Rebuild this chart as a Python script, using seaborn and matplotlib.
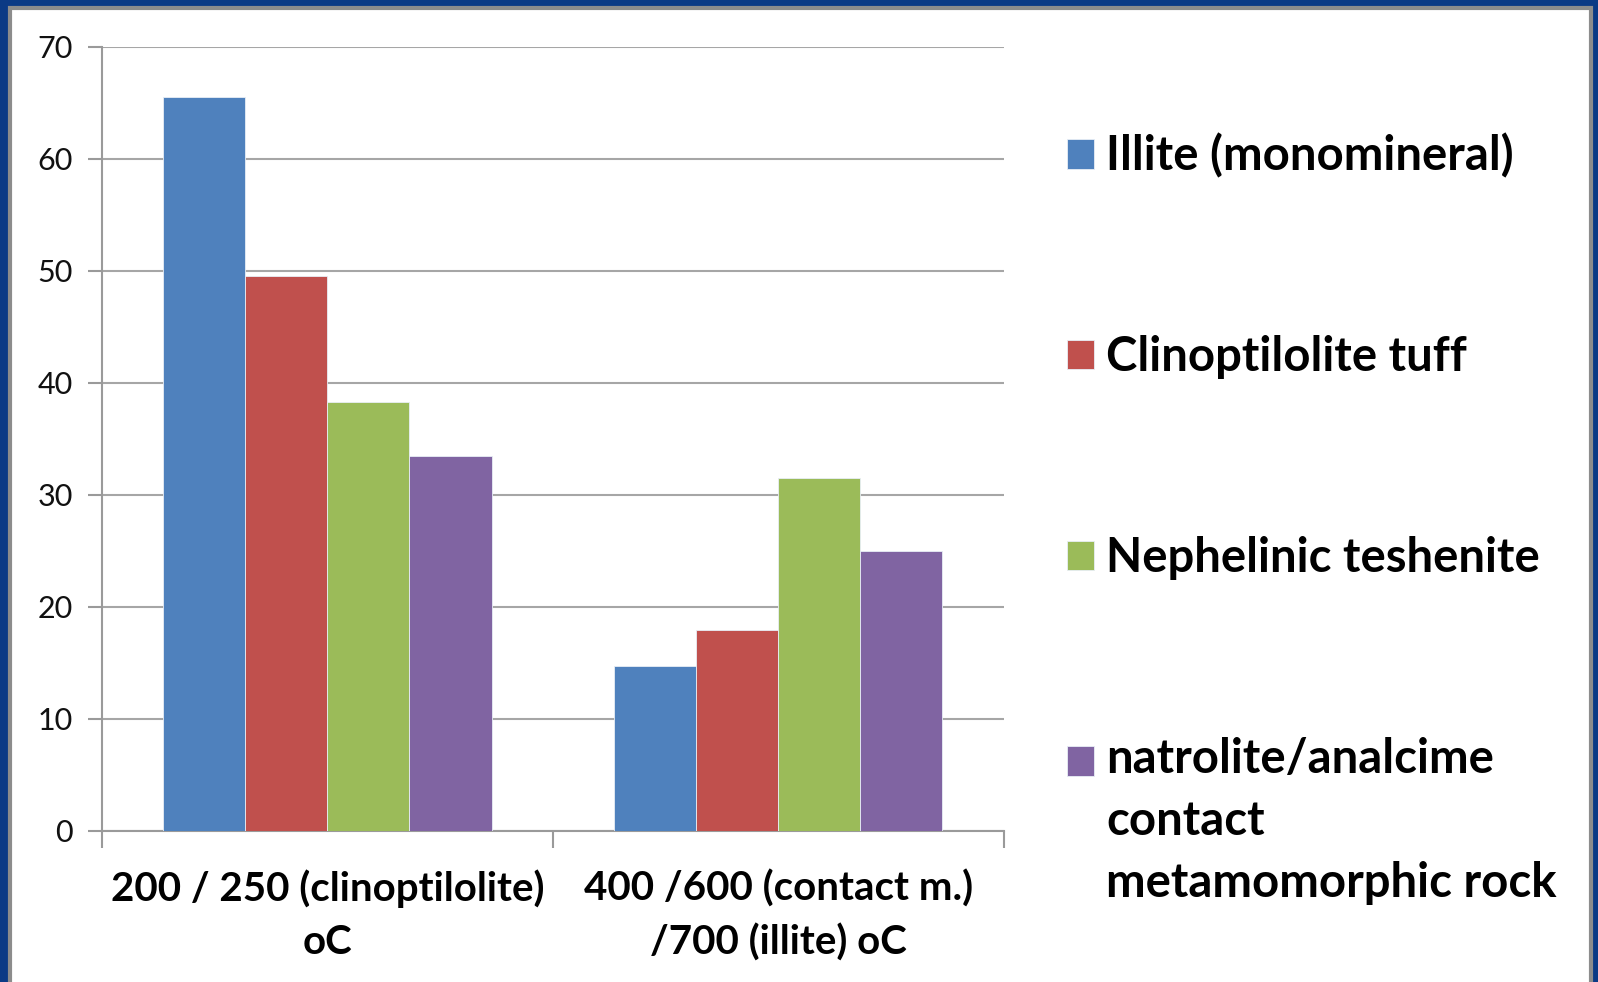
import matplotlib
matplotlib.use("Agg")
import matplotlib.pyplot as plt
from matplotlib.patches import Rectangle
import seaborn as sns
import pandas as pd

# chart data
categories = ["200 / 250 (clinoptilolite)\noC", "400 /600 (contact m.)\n/700 (illite) oC"]
series = ["Illite (monomineral)", "Clinoptilolite tuff", "Nephelinic teshenite",
          "natrolite/analcime\ncontact\nmetamomorphic rock"]
values = {
    series[0]: [65.5, 14.7],
    series[1]: [49.5, 17.9],
    series[2]: [38.3, 31.5],
    series[3]: [33.5, 25.0],
}
colors = ["#4F81BD", "#C0504D", "#9BBB59", "#8064A2"]
yticks = [0, 10, 20, 30, 40, 50, 60, 70]

rows = []
for s in series:
    for c, v in zip(categories, values[s]):
        rows.append({"category": c, "series": s, "value": v})
df = pd.DataFrame(rows)

sns.set_theme(style="white")
plt.rcParams["font.family"] = ["Lato", "DejaVu Sans"]
plt.rcParams["text.color"] = "black"

fig = plt.figure(figsize=(15.98, 9.82), dpi=100)
fig.patch.set_facecolor("#0b3a85")
# white slide panel
fig.patches.append(Rectangle((0.0065, -0.01), 0.989, 1.002, transform=fig.transFigure,
                             facecolor="white", edgecolor="#8c8c8c", linewidth=3, zorder=-5))

ax = fig.add_axes([0.0638, 0.1542, 0.5643, 0.798])
ax.set_zorder(2)
sns.barplot(data=df, x="category", y="value", hue="series", hue_order=series,
            palette=colors, width=0.728, saturation=1, ax=ax,
            edgecolor="#e8eef6", linewidth=0.6, zorder=3)

ax.set_ylim(0, 70)
ax.set_xlim(-0.5, 1.5)
ax.set_yticks(yticks)
ax.set_xlabel("")
ax.set_ylabel("")
ax.set_facecolor("none")
ax.yaxis.grid(True, color="#a6a6a6", linewidth=1.5, zorder=0)
ax.set_axisbelow(True)
for side in ["top", "right"]:
    ax.spines[side].set_visible(False)
for side in ["left", "bottom"]:
    ax.spines[side].set_color("#9a9a9a")
    ax.spines[side].set_linewidth(1.5)

ax.tick_params(axis="y", left=True, length=10, width=1.5, color="#9a9a9a",
               labelsize=22, labelcolor="#111111", pad=11)
ax.set_xticks([-0.5, 0.5, 1.5], minor=True)
ax.tick_params(axis="x", which="minor", bottom=True, length=12, width=1.5, color="#9a9a9a")
ax.tick_params(axis="x", which="major", bottom=False, length=0, pad=28)
for lab in ax.get_xticklabels():
    lab.set_fontsize(29)
    lab.set_fontweight("bold")
    lab.set_linespacing(1.52)
    lab.set_color("black")

fs = 34
leg = ax.legend(loc="upper left", bbox_to_anchor=(1.023, 0.944), frameon=False,
                prop={"weight": "bold", "size": fs},
                handlelength=0.58, handleheight=0.58, handletextpad=0.25,
                labelspacing=3.32)
for t in leg.get_texts():
    t.set_linespacing(1.5)
    t.set_color("black")
# keep the last square on the first line of its three-line label
last = leg.get_patches()[3]
last.set_y(last.get_y() + 44)

fig.savefig("out.png", dpi=100, facecolor=fig.get_facecolor())
